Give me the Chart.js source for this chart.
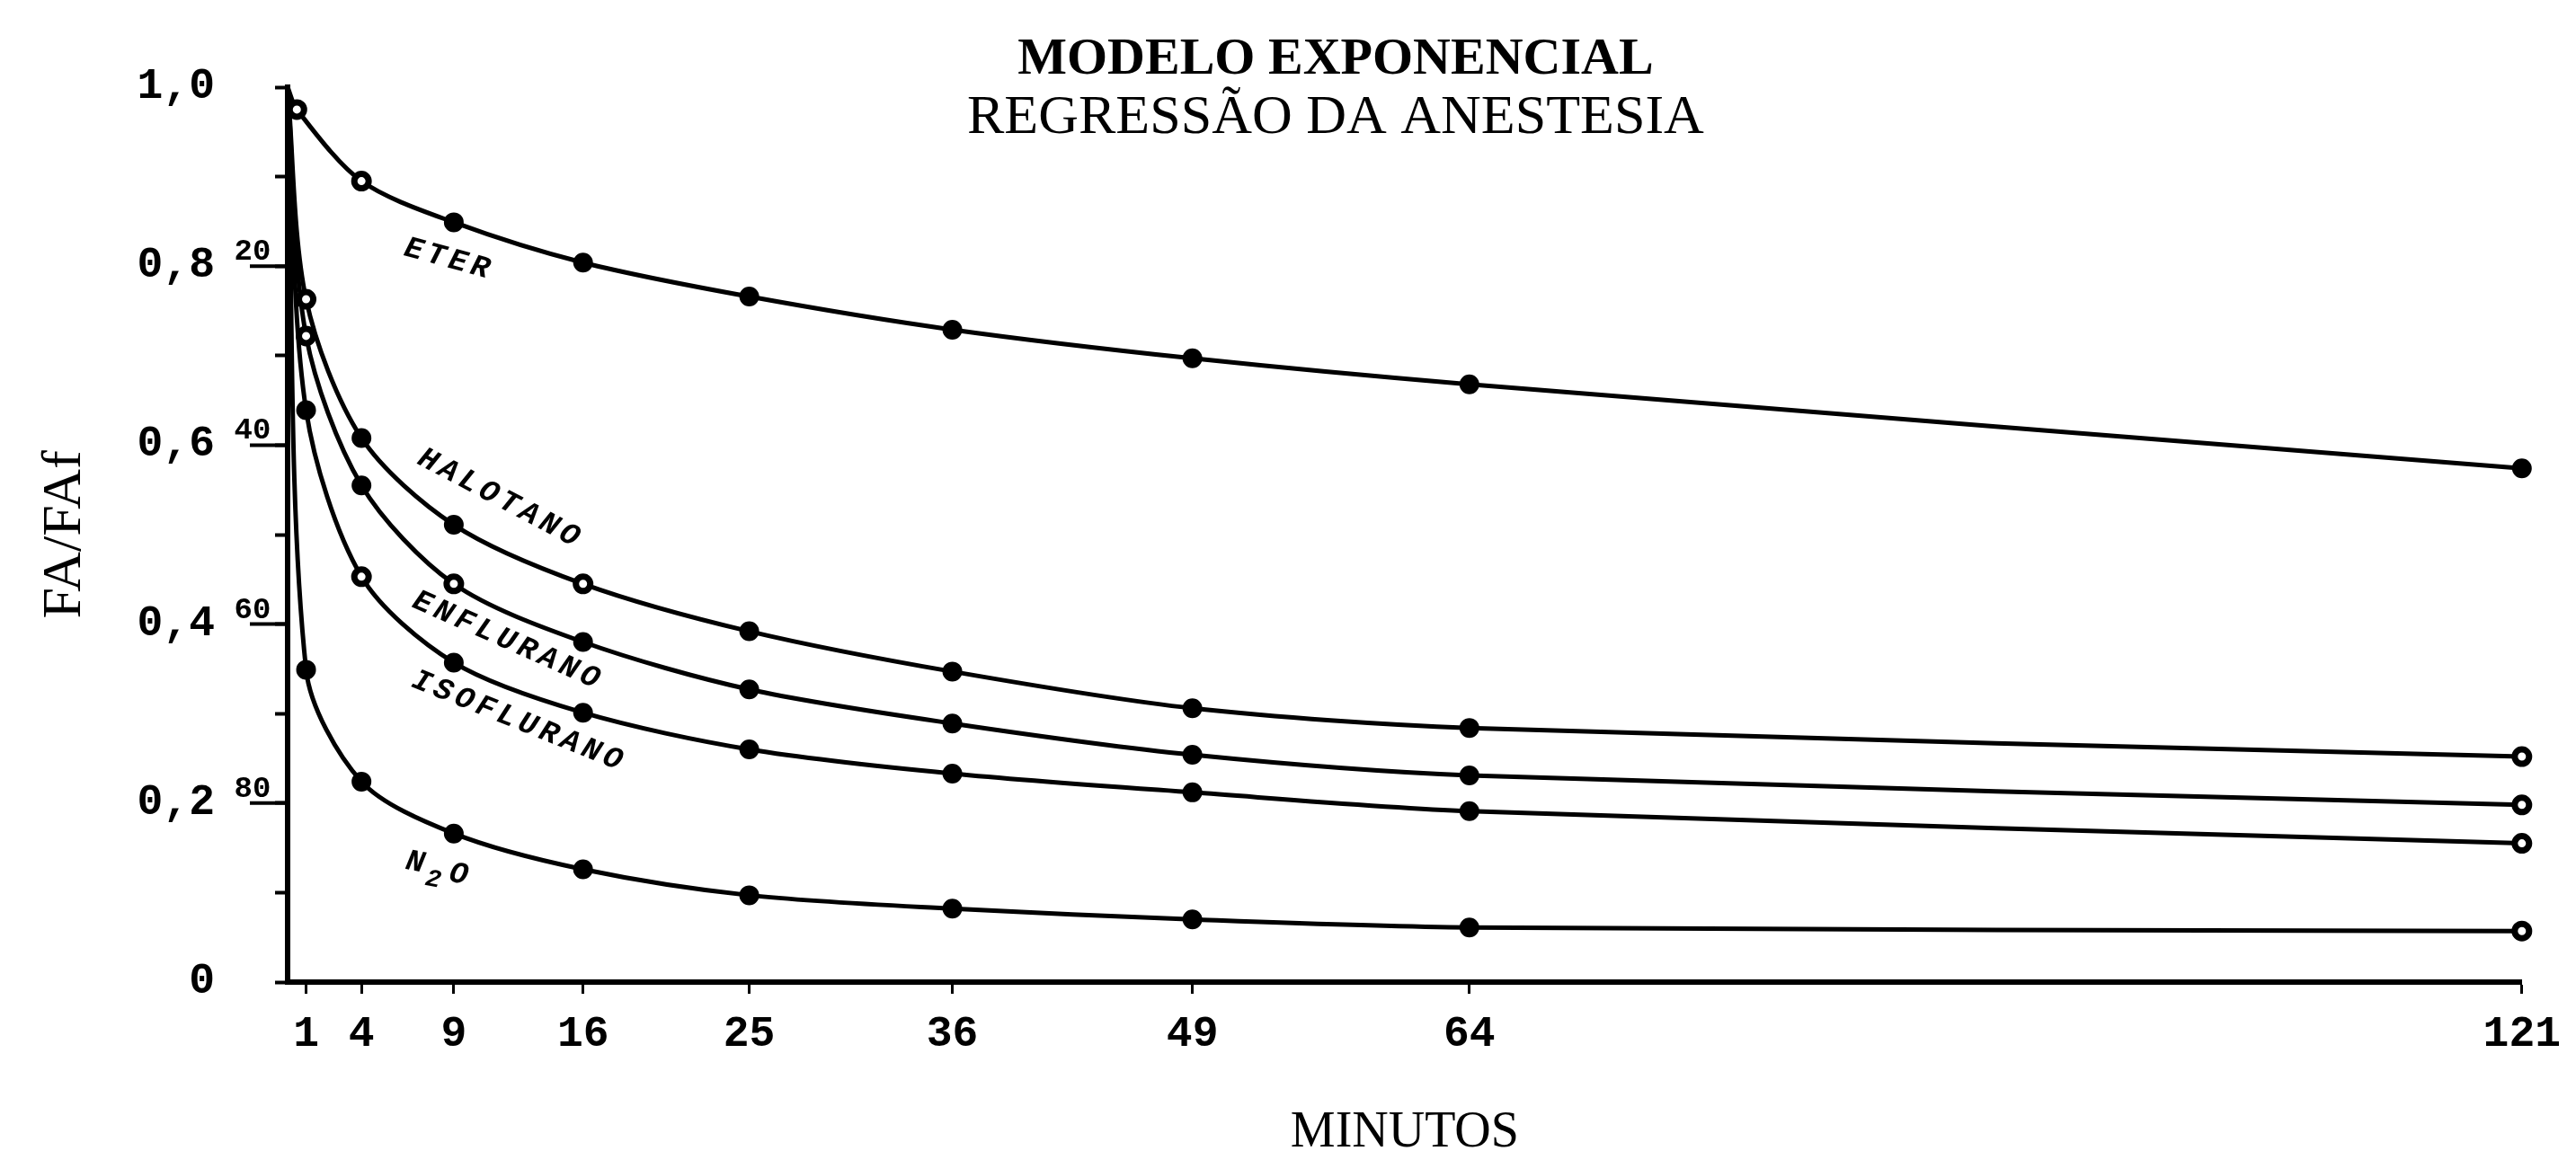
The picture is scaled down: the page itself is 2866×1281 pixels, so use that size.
<!DOCTYPE html>
<html>
<head>
<meta charset="utf-8">
<script src="https://cdn.jsdelivr.net/npm/chart.js@4.4.1/dist/chart.umd.min.js"></script>
<style>
  html, body { margin: 0; padding: 0; background: #ffffff; }
  #wrap { width: 2866px; height: 1281px; }
</style>
</head>
<body>
<div id="wrap"><canvas id="c" width="2866" height="1281"></canvas></div>
<script>
// ---------- data ----------
const minutes     = [0, 1, 4, 9, 16, 25, 36, 49, 64, 121];
const eterMinutes = [0, 0.5, 4, 9, 16, 25, 36, 49, 64, 121];

const eter       = [1.0, 0.975, 0.895, 0.849, 0.804, 0.766, 0.729, 0.697, 0.668, 0.574];
const halotano   = [1.0, 0.763, 0.608, 0.511, 0.445, 0.392, 0.347, 0.306, 0.284, 0.252];
const enflurano  = [1.0, 0.722, 0.555, 0.445, 0.380, 0.327, 0.289, 0.254, 0.231, 0.198];
const isoflurano = [1.0, 0.639, 0.453, 0.357, 0.301, 0.260, 0.233, 0.212, 0.191, 0.155];
const n2o        = [1.0, 0.349, 0.224, 0.166, 0.126, 0.097, 0.082, 0.070, 0.061, 0.057];

// marker kind per point: '' none, 'o' open circle, 'f' filled circle
const eterMarks       = ['', 'o', 'o', 'f', 'f', 'f', 'f', 'f', 'f', 'f'];
const halotanoMarks   = ['', 'o', 'f', 'f', 'o', 'f', 'f', 'f', 'f', 'o'];
const enfluranoMarks  = ['', 'o', 'f', 'o', 'f', 'f', 'f', 'f', 'f', 'o'];
const isofluranoMarks = ['', 'f', 'o', 'f', 'f', 'f', 'f', 'f', 'f', 'o'];
const n2oMarks        = ['', 'f', 'f', 'f', 'f', 'f', 'f', 'f', 'f', 'o'];

const seriesNames = ['ETER', 'HALOTANO', 'ENFLURANO', 'ISOFLURANO', 'N2O'];

const xTickValues  = [1, 4, 9, 16, 25, 36, 49, 64, 121];
const yLabelValues = [0, 0.2, 0.4, 0.6, 0.8, 1.0];
const yLabelTexts  = ['0', '0,2', '0,4', '0,6', '0,8', '1,0'];
const pctValues    = [0.8, 0.6, 0.4, 0.2];
const pctLabels    = ['20', '40', '60', '80'];

const titleLines = ['MODELO EXPONENCIAL', 'REGRESSÃO DA ANESTESIA'];
const xTitle = 'MINUTOS';
const yTitle = 'FA/FAf';

// ---------- chart ----------
Chart.defaults.color = '#000';

function makeDataset(label, xs, ys, marks) {
  return {
    label: label,
    data: xs.map((x, i) => ({ x: x, y: ys[i] })),
    borderColor: '#000',
    borderWidth: 5,
    tension: 0.3,
    clip: false,
    pointStyle: 'circle',
    pointRadius: c => marks[c.dataIndex] === '' ? 0 : (marks[c.dataIndex] === 'o' ? 8 : 10),
    pointHoverRadius: c => marks[c.dataIndex] === '' ? 0 : (marks[c.dataIndex] === 'o' ? 8 : 10),
    pointBackgroundColor: c => marks[c.dataIndex] === 'o' ? '#fff' : '#000',
    pointBorderColor: '#000',
    pointBorderWidth: c => marks[c.dataIndex] === 'o' ? 7 : 2
  };
}

// curve name annotations (anchored in data units)
const curveLabelCfg = [
  { name: 0, t: 8.6,  v: 0.808, angle: 15.5 },
  { name: 1, t: 11.4, v: 0.541, angle: 28 },
  { name: 2, t: 11.8, v: 0.382, angle: 24 },
  { name: 3, t: 12.4, v: 0.292, angle: 22 },
  { name: 4, t: 8.2,  v: 0.124, angle: 11 }
];

const annotPlugin = {
  id: 'annot',
  afterDraw(chart) {
    const { ctx, scales: { x, y } } = chart;
    ctx.save();
    ctx.fillStyle = '#000';
    ctx.strokeStyle = '#000';

    // title
    const tx = chart.chartArea.left + (chart.chartArea.right - chart.chartArea.left) / 2 - 77;
    ctx.textAlign = 'center';
    ctx.textBaseline = 'alphabetic';
    ctx.font = 'bold 58px "Liberation Serif"';
    ctx.fillText(titleLines[0], tx, 82);
    ctx.font = '62px "Liberation Serif"';
    ctx.fillText(titleLines[1], tx, 148);

    // secondary percentage labels on the y axis
    ctx.font = 'bold 34px "Liberation Mono"';
    pctValues.forEach((v, i) => {
      const py = y.getPixelForValue(v);
      ctx.textAlign = 'center';
      ctx.textBaseline = 'alphabetic';
      ctx.fillText(pctLabels[i], x.left - 39, py - 7);
      ctx.lineWidth = 4;
      ctx.beginPath();
      ctx.moveTo(x.left - 42, py);
      ctx.lineTo(x.left, py);
      ctx.stroke();
    });

    // curve names
    const f = 'italic bold 34px "Liberation Mono"';
    curveLabelCfg.forEach(c => {
      const px = x.getPixelForValue(c.t);
      const py = y.getPixelForValue(c.v);
      ctx.save();
      ctx.translate(px, py);
      ctx.rotate(c.angle * Math.PI / 180);
      ctx.textBaseline = 'middle';
      const name = seriesNames[c.name];
      if (name === 'N2O') {
        ctx.textAlign = 'left';
        ctx.letterSpacing = '0px';
        ctx.font = f;
        ctx.fillText('N', -38, -4);
        ctx.font = 'italic bold 28px "Liberation Mono"';
        ctx.fillText('2', -13, 11);
        ctx.font = f;
        ctx.fillText('O', 12, 0);
      } else {
        ctx.textAlign = 'center';
        ctx.letterSpacing = '5px';
        ctx.font = f;
        ctx.fillText(name, 3, 0);
      }
      ctx.restore();
    });
    ctx.restore();
  }
};

new Chart(document.getElementById('c'), {
  type: 'line',
  data: {
    datasets: [
      makeDataset(seriesNames[0], eterMinutes, eter, eterMarks),
      makeDataset(seriesNames[1], minutes, halotano, halotanoMarks),
      makeDataset(seriesNames[2], minutes, enflurano, enfluranoMarks),
      makeDataset(seriesNames[3], minutes, isoflurano, isofluranoMarks),
      makeDataset(seriesNames[4], minutes, n2o, n2oMarks)
    ]
  },
  options: {
    responsive: false,
    animation: false,
    devicePixelRatio: 1,
    layout: { padding: { top: 97, right: 48, bottom: 0, left: 0 } },
    plugins: {
      legend: { display: false },
      tooltip: { enabled: false },
      title: { display: false }
    },
    scales: {
      x: {
        type: 'linear',
        min: 0,
        max: 121,
        afterBuildTicks: s => { s.ticks = xTickValues.map(v => ({ value: v })); },
        afterFit: s => { s.height = 188; },
        ticks: {
          autoSkip: false,
          maxRotation: 0,
          padding: 17,
          color: '#000',
          font: { family: '"Liberation Mono"', weight: 'bold', size: 48 },
          callback: v => String(v)
        },
        grid: { drawOnChartArea: false, drawTicks: true, tickLength: 13, tickWidth: 3, tickColor: '#000' },
        border: { display: true, color: '#000', width: 6 },
        title: {
          display: true, text: xTitle, color: '#000', padding: 0,
          font: { family: '"Liberation Serif"', size: 56, lineHeight: 0.72 }
        }
      },
      y: {
        type: 'linear',
        min: 0,
        max: 1,
        afterFit: s => { s.width = 320; },
        ticks: {
          stepSize: 0.1,
          padding: 67,
          color: '#000',
          font: { family: '"Liberation Mono"', weight: 'bold', size: 48 },
          callback: v => {
            const i = yLabelValues.findIndex(a => Math.abs(a - v) < 1e-6);
            return i >= 0 ? yLabelTexts[i] : '';
          }
        },
        grid: { drawOnChartArea: false, drawTicks: true, tickLength: 14, tickWidth: 4, tickColor: '#000' },
        border: { display: true, color: '#000', width: 6 },
        title: {
          display: true, text: yTitle, color: '#000', padding: { top: 42, bottom: 0 },
          font: { family: '"Liberation Serif"', size: 62, lineHeight: 1 }
        }
      }
    }
  },
  plugins: [annotPlugin]
});
</script>
</body>
</html>
